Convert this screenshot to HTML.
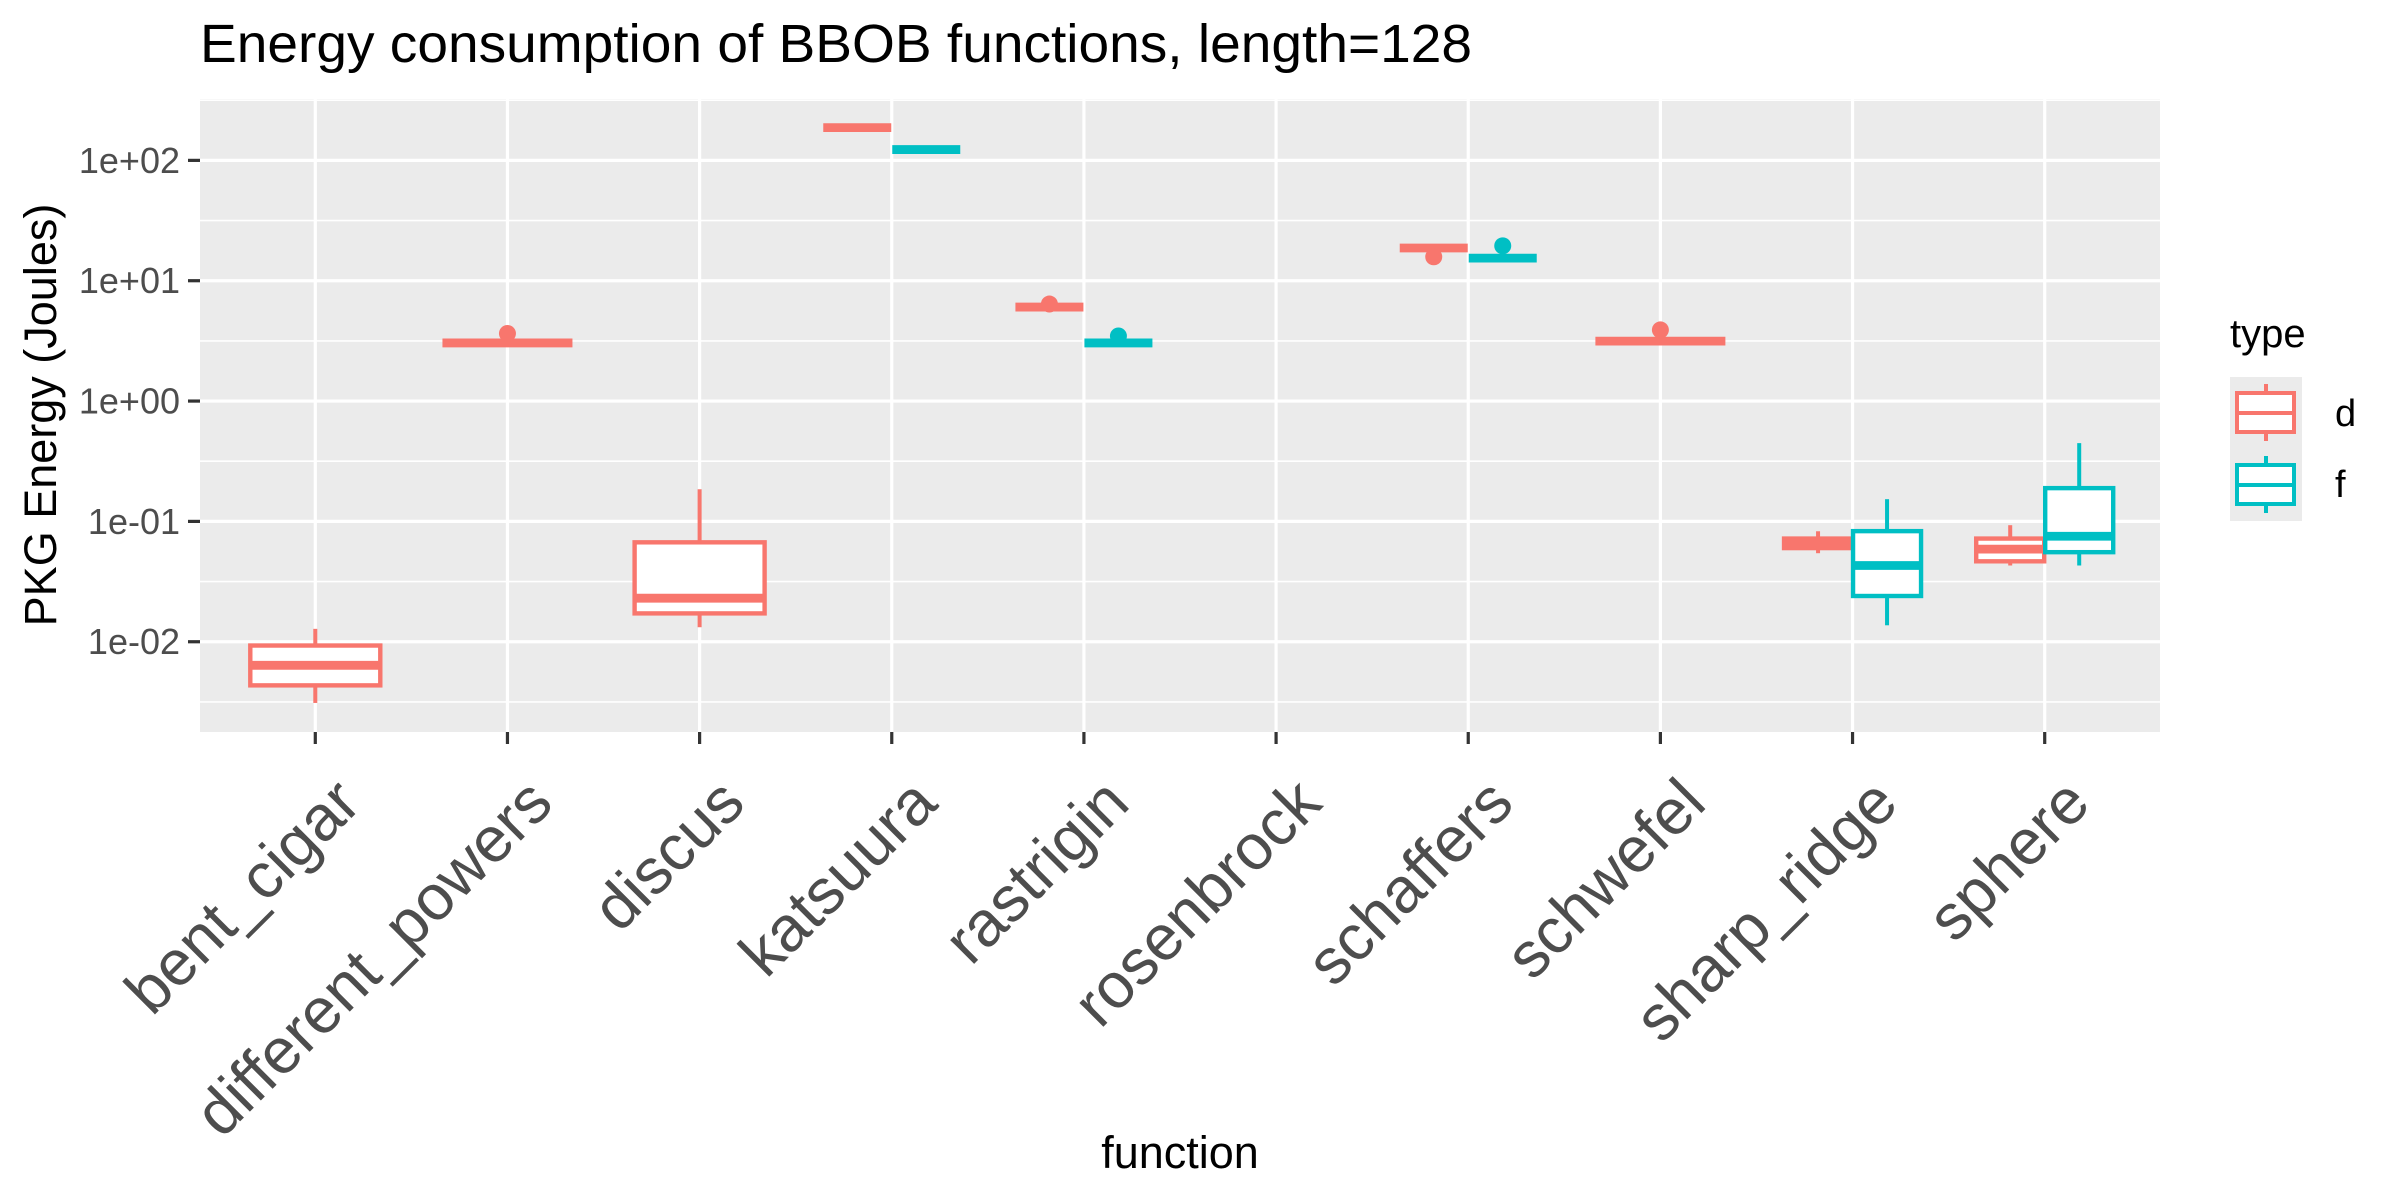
<!DOCTYPE html>
<html><head><meta charset="utf-8"><style>
html,body{margin:0;padding:0;background:#fff;}
svg{display:block;font-family:"Liberation Sans",Arial,sans-serif;}
</style></head><body>
<svg id="chart" width="2400" height="1200" viewBox="0 0 2400 1200" xmlns="http://www.w3.org/2000/svg">
<rect width="2400" height="1200" fill="#fff"/>
<text x="200" y="62" font-size="54" fill="#000" textLength="1272" lengthAdjust="spacingAndGlyphs">Energy consumption of BBOB functions, length=128</text>
<rect x="200" y="99" width="1960" height="633" fill="#EBEBEB"/>
<g id="grid"></g>
<g id="marks"></g>
<g id="axes"></g>
<text transform="translate(56,415) rotate(-90)" text-anchor="middle" font-size="45" fill="#000">PKG Energy (Joules)</text>
<text x="1180" y="1168" text-anchor="middle" font-size="45" fill="#000">function</text>
<g>
<text x="2230" y="347" font-size="40" fill="#000">type</text>
<rect x="2230" y="377" width="72" height="144" fill="#EBEBEB"/>
<g stroke="#F8766D" stroke-width="4" fill="#fff">
<line x1="2266" y1="384" x2="2266" y2="441"/><rect x="2237" y="393" width="57" height="39"/><line x1="2237" y1="413" x2="2294" y2="413"/></g>
<text x="2335" y="426" font-size="38" fill="#000">d</text>
<g stroke="#00BFC4" stroke-width="4" fill="#fff">
<line x1="2266" y1="456" x2="2266" y2="513"/><rect x="2237" y="465" width="57" height="39"/><line x1="2237" y1="485" x2="2294" y2="485"/></g>
<text x="2335" y="497" font-size="38" fill="#000">f</text>
</g>
</svg>
<script>
const categories = ["bent_cigar","different_powers","discus","katsuura","rastrigin","rosenbrock","schaffers","schwefel","sharp_ridge","sphere"];
const yTickValues = [0.01, 0.1, 1, 10, 100];
const yTickLabels = ["1e-02","1e-01","1e+00","1e+01","1e+02"];
// type d
const dLow = [0.0031, 3.04, 0.0132, 187, 6.04, null, 18.7, 3.15, 0.0544, 0.043];
const dQ1  = [0.00434, 3.04, 0.0172, 187, 6.04, null, 18.7, 3.15, 0.060, 0.0466];
const dMed = [0.00637, 3.04, 0.023, 187, 6.04, null, 18.7, 3.15, 0.066, 0.0588];
const dQ3  = [0.0093, 3.04, 0.067, 187, 6.04, null, 18.7, 3.15, 0.072, 0.072];
const dHigh= [0.0128, 3.04, 0.185, 187, 6.04, null, 18.7, 3.15, 0.0828, 0.093];
const dOutliers = [[], [3.64], [], [], [6.4], [], [15.8], [3.9], [], []];
// type f
const fLow = [null, null, null, 123, 3.04, null, 15.4, null, 0.0137, 0.043];
const fQ1  = [null, null, null, 123, 3.04, null, 15.4, null, 0.024, 0.0555];
const fMed = [null, null, null, 123, 3.04, null, 15.4, null, 0.043, 0.0753];
const fQ3  = [null, null, null, 123, 3.04, null, 15.4, null, 0.083, 0.189];
const fHigh= [null, null, null, 123, 3.04, null, 15.4, null, 0.153, 0.447];
const fOutliers = [[], [], [], [], [3.47], [], [19.5], [], [], []];

const NS = "http://www.w3.org/2000/svg";
const PL = 200, PR = 2160, PT = 99, PB = 732;
const logMin = -2.75, logMax = 2.51;
function yScale(v){ return PB - (Math.log10(v) - logMin) / (logMax - logMin) * (PB - PT); }
const band = (PR - PL) / (categories.length + 0.2);
function xScale(i){ return PL + band * (0.6 + i); }
function mk(tag, attrs, parent){ const e = document.createElementNS(NS, tag); for (const k in attrs) e.setAttribute(k, attrs[k]); parent.appendChild(e); return e; }

const grid = document.getElementById("grid");
const marks = document.getElementById("marks");
const axes = document.getElementById("axes");

for (let p = Math.floor(logMin); p <= Math.ceil(logMax); p++) {
  const y = yScale(Math.pow(10, p + 0.5));
  if (y < PT || y > PB) continue;
  const l = mk("line", {x1: PL, x2: PR, y1: y, y2: y, stroke: "#fff", "stroke-width": 1.6}, grid);
  
  
}
yTickValues.forEach((v, i) => {
  const y = yScale(v);
  const l = mk("line", {x1: PL, x2: PR, y1: y, y2: y, stroke: "#fff", "stroke-width": 3.2}, grid);
  
  
  const t = mk("line", {x1: 188, x2: PL, y1: y, y2: y, stroke: "#333", "stroke-width": 3.2}, axes);
  
  
  const tx = mk("text", {x: 180, y: y + 12.5, "text-anchor": "end", "font-size": 36, fill: "#4D4D4D"}, axes);
  tx.textContent = yTickLabels[i];
  
  
});
categories.forEach((c, i) => {
  const x = xScale(i);
  const l = mk("line", {x1: x, x2: x, y1: PT, y2: PB, stroke: "#fff", "stroke-width": 3.2}, grid);
  
  
  const t = mk("line", {x1: x, x2: x, y1: PB, y2: PB + 12, stroke: "#333", "stroke-width": 3.2}, axes);
  
  
  const tx = mk("text", {transform: "translate(" + (x + 48) + ",806) rotate(-45)", "text-anchor": "end", "font-size": 64, fill: "#4D4D4D"}, axes);
  tx.textContent = c;
  
  
});

function drawBox(cx, w, lo, q1, med, q3, hi, outs, color, name) {
  const g = mk("g", {}, marks);
  
  
  mk("line", {x1: cx, x2: cx, y1: yScale(hi), y2: yScale(q3), stroke: color, "stroke-width": 4}, g);
  mk("line", {x1: cx, x2: cx, y1: yScale(q1), y2: yScale(lo), stroke: color, "stroke-width": 4}, g);
  const yt = yScale(q3), yb = yScale(q1);
  mk("rect", {x: cx - w/2, y: yt, width: w, height: Math.max(0, yb - yt), fill: "#fff", stroke: color, "stroke-width": 4.4}, g);
  mk("line", {x1: cx - w/2, x2: cx + w/2, y1: yScale(med), y2: yScale(med), stroke: color, "stroke-width": 8.8}, g);
  outs.forEach(o => {
    const c = mk("circle", {cx: cx, cy: yScale(o), r: 8.5, fill: color}, g);
    
    
  });
}
categories.forEach((c, i) => {
  const hasD = dMed[i] !== null, hasF = fMed[i] !== null;
  const both = hasD && hasF;
  const w = both ? 68 : 130;
  const off = both ? 34.5 : 0;
  if (hasD) drawBox(xScale(i) - off, w, dLow[i], dQ1[i], dMed[i], dQ3[i], dHigh[i], dOutliers[i], "#F8766D", "box-" + c + "-d");
  if (hasF) drawBox(xScale(i) + off, w, fLow[i], fQ1[i], fMed[i], fQ3[i], fHigh[i], fOutliers[i], "#00BFC4", "box-" + c + "-f");
});
</script>
</body></html>
